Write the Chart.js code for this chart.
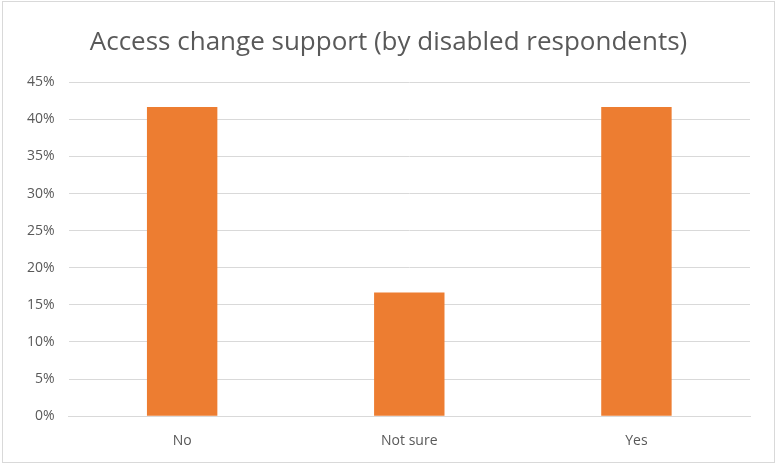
<!DOCTYPE html>
<html>
<head>
<meta charset="utf-8">
<script src="https://cdn.jsdelivr.net/npm/chart.js@4"></script>
<style>
  body { margin: 0; background: #fff; }
  #wrap { position: absolute; left: 2px; top: 1px; width: 773px; height: 462px; border: 1px solid #d9d9d9; box-sizing: border-box; }
  canvas { display: block; }
</style>
</head>
<body>
<div id="wrap"><canvas id="access-chart" width="771" height="460"></canvas></div>
<script>
// ACCESS CHANGE CHART
var categories = ["No", "Not sure", "Yes"];
var shares = [0.4167, 0.1667, 0.4167];
var yTicks = [0, 0.05, 0.10, 0.15, 0.20, 0.25, 0.30, 0.35, 0.40, 0.45];

var ctx = document.getElementById("access-chart").getContext("2d");
var myAccessChart = new Chart(ctx, {
  type: "bar",
  data: {
    labels: categories,
    datasets: [
      {
        data: shares,
        backgroundColor: "#ED7D31",
        borderWidth: 0,
        categoryPercentage: 1,
        barPercentage: 0.31,
      },
    ],
  },
  options: {
    responsive: false,
    animation: false,
    layout: { padding: { left: 24, right: 24, top: 3, bottom: 5 } },
    plugins: {
      legend: { display: false },
      tooltip: { enabled: false },
      title: {
        display: true,
        text: "Access change support (by disabled respondents)",
        color: "#595959",
        font: { family: "'Open Sans'", size: 26, weight: "normal" },
        padding: { top: 22, bottom: 24 },
      },
    },
    scales: {
      x: {
        grid: { display: false },
        border: { display: true, color: "#d9d9d9" },
        ticks: { color: "#595959", font: { family: "'Open Sans'", size: 14 }, padding: 8 },
      },
      y: {
        min: 0,
        max: 0.45,
        afterBuildTicks: (axis) => { axis.ticks = yTicks.map((v) => ({ value: v })); },
        afterFit: (axis) => { axis.width -= 14; },
        grid: { color: "#d9d9d9", drawTicks: false },
        border: { display: false },
        ticks: {
          autoSkip: false,
          color: "#595959",
          font: { family: "'Open Sans'", size: 14 },
          padding: 14,
          callback: (v) => Math.round(v * 100) + "%",
        },
      },
    },
  },
});
</script>
</body>
</html>
